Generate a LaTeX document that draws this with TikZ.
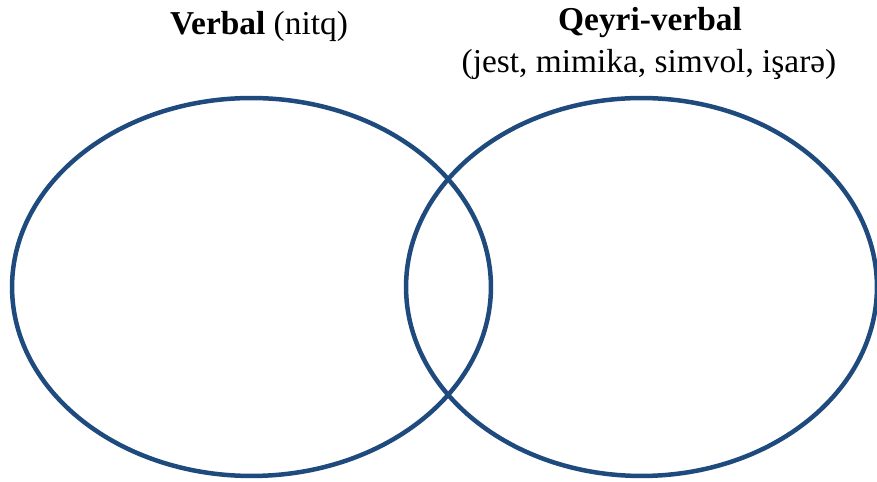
\documentclass[tikz,border=0pt]{standalone}
\usepackage{fontspec}
\setmainfont{Liberation Serif}
\usetikzlibrary{shapes.geometric, positioning}
\definecolor{vennblue}{RGB}{31,74,126}

\begin{document}
\begin{tikzpicture}[x=0.02cm, y=-0.02cm,
    circ/.style={ellipse, draw=vennblue, line width=0.09cm, minimum height=7.56cm},
    title/.style={font=\fontsize{19}{22}\selectfont, align=center, inner sep=0pt}]
\useasboundingbox (0,0) rectangle (877,482);
\node[circ, minimum width=9.58cm] (verbal) at (251.5,287) {};
\node[circ, minimum width=9.42cm] (nonverbal) at (641.5,287) {};
\node[title, anchor=base] (verballbl) at (259,35) {\textbf{Verbal} (nitq)};
\node[title, anchor=base] (nonverballbl) at (650,31) {\textbf{Qeyri-verbal}};
\node[title, anchor=base] (nonverbalsub) at (649,73) {(jest, mimika, simvol, işarə)};
\end{tikzpicture}
\end{document}
